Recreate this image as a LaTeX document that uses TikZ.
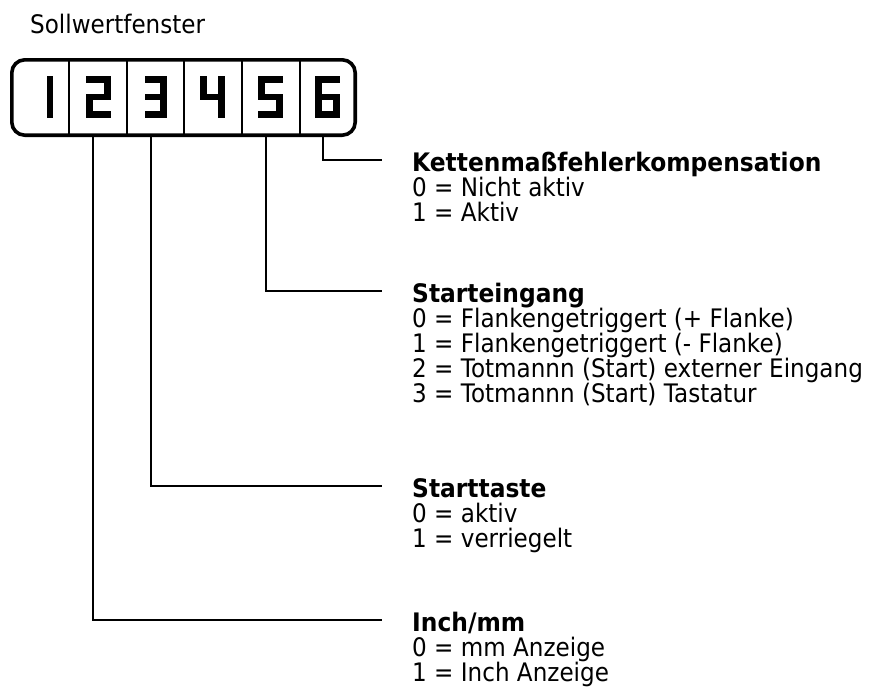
\documentclass[tikz,border=0pt]{standalone}
\usepackage{fontspec}
\setmainfont{DejaVu Sans}[FakeStretch=0.905]
\newfontfamily\titlefont{DejaVu Sans}[FakeStretch=0.916]
\begin{document}
\begin{tikzpicture}[x=1pt,y=-1pt,
  seg/.style={line width=6.6pt,line cap=rect,line join=miter},
  frame/.style={line width=3.6pt,rounded corners=13pt},
  divider/.style={line width=1.6pt},
  conn/.style={line width=1.6pt,shorten >=30pt},
  txt/.style={inner sep=0pt,anchor=base west,font=\fontsize{25.5}{24.8}\selectfont},
  ttl/.style={inner sep=0pt,anchor=west,text height=23pt,text depth=0pt,font=\fontsize{25.5}{24.8}\selectfont\titlefont\bfseries},
  cell/.style={inner sep=0pt,minimum height=76pt}]
\useasboundingbox (0,0) rectangle (879,688);

\node[txt] (head) at (30,33) {Sollwertfenster};

% display frame
\draw[frame] (11.8,59.8) rectangle (355.2,135.2);
\foreach \x in {69,127,184,242,300}
  \draw[divider] (\x,59.8) -- (\x,135.2);

% cells (invisible, for naming)
\node[cell,minimum width=59pt] (c1) at (39.5,97.5) {};
\node[cell,minimum width=58pt] (c2) at (98,97.5) {};
\node[cell,minimum width=57pt] (c3) at (155.5,97.5) {};
\node[cell,minimum width=58pt] (c4) at (213,97.5) {};
\node[cell,minimum width=58pt] (c5) at (271,97.5) {};
\node[cell,minimum width=57pt] (c6) at (328.5,97.5) {};

% seven-segment digits
\draw[seg] (50,79.3) -- (50,114.7);
\draw[seg] (89.3,79.3) -- (107.7,79.3) -- (107.7,97) -- (89.3,97) -- (89.3,114.7) -- (107.7,114.7);
\draw[seg] (148.3,79.3) -- (163.7,79.3) -- (163.7,114.7) -- (148.3,114.7);
\draw[seg] (148.3,97) -- (163.7,97);
\draw[seg] (203.3,79.3) -- (203.3,97) -- (221.7,97);
\draw[seg] (221.7,79.3) -- (221.7,114.7);
\draw[seg] (279.7,79.3) -- (261.3,79.3) -- (261.3,97) -- (279.7,97) -- (279.7,114.7) -- (261.3,114.7);
\draw[seg] (336.7,79.3) -- (318.3,79.3) -- (318.3,114.7) -- (336.7,114.7) -- (336.7,97) -- (318.3,97);

% connector start points
\coordinate (p2) at (93,136);
\coordinate (p3) at (151,136);
\coordinate (p5) at (266,136);
\coordinate (p6) at (323,136);

% block 6
\node[ttl] (t6) at (412,160) {Kettenmaßfehlerkompensation};
\node[txt] (t6a) at (412,196.8) {0 = Nicht aktiv};
\node[txt] (t6b) at (412,221.6) {1 = Aktiv};

% block 5
\node[ttl] (t5) at (412,291) {Starteingang};
\node[txt] (t5a) at (412,327.8) {0 = Flankengetriggert (+ Flanke)};
\node[txt] (t5b) at (412,352.6) {1 = Flankengetriggert (- Flanke)};
\node[txt] (t5c) at (412,377.4) {2 = Totmannn (Start) externer Eingang};
\node[txt] (t5d) at (412,402.2) {3 = Totmannn (Start) Tastatur};

% block 3
\node[ttl] (t3) at (412,486) {Starttaste};
\node[txt] (t3a) at (412,522.8) {0 = aktiv};
\node[txt] (t3b) at (412,547.6) {1 = verriegelt};

% block 2
\node[ttl] (t2) at (412,620) {Inch/mm};
\node[txt] (t2a) at (412,656.8) {0 = mm Anzeige};
\node[txt] (t2b) at (412,681.6) {1 = Inch Anzeige};

% connectors
\draw[conn] (p6) |- (t6.west);
\draw[conn] (p5) |- (t5.west);
\draw[conn] (p3) |- (t3.west);
\draw[conn] (p2) |- (t2.west);
\end{tikzpicture}
\end{document}
